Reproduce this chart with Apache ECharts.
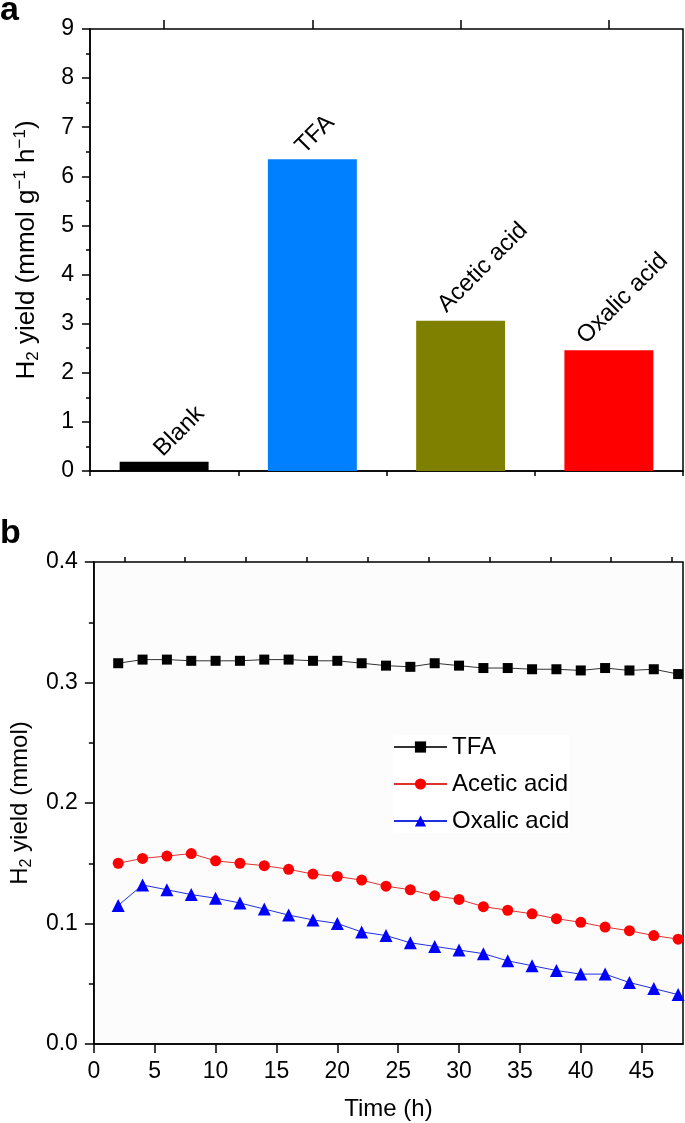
<!DOCTYPE html>
<html><head><meta charset="utf-8">
<script src="https://cdn.jsdelivr.net/npm/echarts@6/dist/echarts.min.js"></script>
<style>html,body{margin:0;padding:0;background:#fff}#c{width:685px;height:1123px}</style>
</head><body><div id="c"></div>
<script>
// ---- Panel a data ----
const barCategories = ['Blank', 'TFA', 'Acetic acid', 'Oxalic acid'];
const barValues = [0.19, 6.35, 3.06, 2.46];
const barColors = ['#000000', '#0080ff', '#808000', '#ff0000'];
const yTicksA = [0, 1, 2, 3, 4, 5, 6, 7, 8, 9];

// ---- Panel b data ----
const timeH = [2, 4, 6, 8, 10, 12, 14, 16, 18, 20, 22, 24, 26, 28, 30, 32, 34, 36, 38, 40, 42, 44, 46, 48];
const tfa = [0.316, 0.319, 0.319, 0.318, 0.318, 0.318, 0.319, 0.319, 0.318, 0.318, 0.316, 0.314, 0.313, 0.316, 0.314, 0.312, 0.312, 0.311, 0.311, 0.310, 0.312, 0.310, 0.311, 0.307];
const acetic = [0.150, 0.154, 0.156, 0.158, 0.152, 0.150, 0.148, 0.145, 0.141, 0.139, 0.136, 0.131, 0.128, 0.123, 0.120, 0.114, 0.111, 0.108, 0.104, 0.101, 0.097, 0.094, 0.090, 0.087];
const oxalic = [0.115, 0.132, 0.128, 0.124, 0.121, 0.117, 0.112, 0.107, 0.103, 0.100, 0.093, 0.090, 0.084, 0.081, 0.078, 0.075, 0.069, 0.065, 0.061, 0.058, 0.058, 0.051, 0.046, 0.041];
const timeTicks = [0, 5, 10, 15, 20, 25, 30, 35, 40, 45];
const timeMinorTicks = [2.5, 7.5, 12.5, 17.5, 22.5, 27.5, 32.5, 37.5, 42.5, 47.5];
const timeMax = 48.4;
const yTicksB = [0, 0.1, 0.2, 0.3, 0.4];

// label placement (style only, in the label's rotated frame)
const barLabelShift = [[-0.6, 4.2], [-5.5, -0.7], [-7.6, -7.1], [-15.4, -12.0]];

const FONT = 'Liberation Sans';
const chart = echarts.init(document.getElementById('c'), null, {renderer: 'canvas'});

const axisLineStyle = {color: '#000', width: 1.5};
const richName = (size, lh) => ({
  a: {fontSize: size, fontFamily: FONT, color: '#000', lineHeight: lh, verticalAlign: 'middle'},
  sub: {fontSize: Math.round(size * 0.66), fontFamily: FONT, color: '#000', lineHeight: 15, verticalAlign: 'bottom'},
  sup: {fontSize: Math.round(size * 0.66), fontFamily: FONT, color: '#000', lineHeight: 15, verticalAlign: 'top'}
});

const option = {
  animation: false,
  backgroundColor: '#fff',
  graphic: [
    {type: 'text', x: 0, y: 11, style: {text: 'a', font: 'bold 34px ' + FONT, fill: '#000', verticalAlign: 'middle'}},
    {type: 'text', x: 0, y: 534, style: {text: 'b', font: 'bold 34px ' + FONT, fill: '#000', verticalAlign: 'middle'}}
  ],
  grid: [
    {left: 90, right: 2, top: 29, height: 442, show: true, borderColor: '#000', borderWidth: 1.5, backgroundColor: 'transparent'},
    {left: 89, right: 2, top: 562, height: 482, show: true, borderColor: '#000', borderWidth: 1.5, backgroundColor: '#fcfcfc'}
  ],
  legend: {
    data: ['TFA', 'Acetic acid', 'Oxalic acid'],
    orient: 'vertical', left: 393, top: 735,
    itemWidth: 53, itemHeight: 14, itemGap: 13, padding: 0,
    textStyle: {fontSize: 24, fontFamily: FONT, color: '#000', lineHeight: 24},
    backgroundColor: '#fff'
  },
  xAxis: [
    {gridIndex: 0, type: 'category', data: barCategories, boundaryGap: true,
     axisLine: {lineStyle: axisLineStyle}, axisTick: {show: true, length: 5, lineStyle: {color: '#000', width: 1.5}},
     axisLabel: {show: false}, splitLine: {show: false}},
    {gridIndex: 0, type: 'category', data: barCategories, boundaryGap: true,
     axisLine: {show: false}, axisTick: {show: true, alignWithLabel: true, length: 9, lineStyle: {color: '#000', width: 1.5}},
     axisLabel: {show: false}, splitLine: {show: false}},
    {gridIndex: 1, type: 'value', min: 0, max: timeMax, interval: 5,
     axisLine: {lineStyle: axisLineStyle},
     axisTick: {show: true, length: 9, customValues: timeTicks, lineStyle: {color: '#000', width: 1.5}},
     axisLabel: {customValues: timeTicks, fontSize: 23, fontFamily: FONT, color: '#000', margin: 16},
     splitLine: {show: false},
     name: 'Time (h)', nameLocation: 'middle', nameGap: 53,
     nameTextStyle: {fontSize: 24, fontFamily: FONT, color: '#000'}},
    {gridIndex: 1, type: 'value', min: 0, max: timeMax, interval: 5,
     axisLine: {show: false},
     axisTick: {show: true, length: 5, customValues: timeMinorTicks, lineStyle: {color: '#000', width: 1.5}},
     axisLabel: {show: false}, splitLine: {show: false}}
  ],
  yAxis: [
    {gridIndex: 0, type: 'value', min: yTicksA[0], max: yTicksA[yTicksA.length - 1], interval: 1,
     axisLine: {show: true, lineStyle: axisLineStyle},
     axisTick: {show: true, length: 8, lineStyle: {color: '#000', width: 1.5}},
     minorTick: {show: true, splitNumber: 2, length: 4, lineStyle: {color: '#000', width: 1.5}},
     axisLabel: {fontSize: 23, fontFamily: FONT, color: '#000', margin: 16},
     splitLine: {show: false},
     name: '{a|H}{sub|2}{a| yield (mmol g}{sup|−1}{a| h}{sup|−1}{a|)}',
     nameLocation: 'middle', nameGap: 48,
     nameTextStyle: {rich: richName(26, 30)}},
    {gridIndex: 1, type: 'value', min: yTicksB[0], max: yTicksB[yTicksB.length - 1], interval: 0.1,
     axisLine: {show: true, lineStyle: axisLineStyle},
     axisTick: {show: true, length: 9, lineStyle: {color: '#000', width: 1.5}},
     minorTick: {show: true, splitNumber: 2, length: 5, lineStyle: {color: '#000', width: 1.5}},
     axisLabel: {fontSize: 23, fontFamily: FONT, color: '#000', margin: 16, formatter: v => v.toFixed(1)},
     splitLine: {show: false},
     name: '{a|H}{sub|2}{a| yield (mmol)}',
     nameLocation: 'middle', nameGap: 47,
     nameTextStyle: {rich: richName(24, 30)}}
  ],
  series: [
    {type: 'bar', xAxisIndex: 0, yAxisIndex: 0, barWidth: '60%',
     data: barValues.map((v, i) => ({
       value: v,
       itemStyle: {color: barColors[i]},
       label: {offset: barLabelShift[i]}
     })),
     label: {show: true, position: 'top', distance: 4, rotate: 45, align: 'left', verticalAlign: 'bottom',
             formatter: '{b}', fontSize: 24, fontFamily: FONT, color: '#000'}},
    {type: 'line', name: 'TFA', xAxisIndex: 2, yAxisIndex: 1,
     data: timeH.map((t, i) => [t, tfa[i]]),
     symbol: 'rect', symbolSize: 10, itemStyle: {color: '#000'},
     lineStyle: {color: '#333', width: 1}, clip: false},
    {type: 'line', name: 'Acetic acid', xAxisIndex: 2, yAxisIndex: 1,
     data: timeH.map((t, i) => [t, acetic[i]]),
     symbol: 'circle', symbolSize: 11, itemStyle: {color: '#ff0000'},
     lineStyle: {color: '#e03030', width: 1}, clip: false},
    {type: 'line', name: 'Oxalic acid', xAxisIndex: 2, yAxisIndex: 1,
     data: timeH.map((t, i) => [t, oxalic[i]]),
     symbol: 'triangle', symbolSize: 13, itemStyle: {color: '#0000ff'},
     lineStyle: {color: '#2030e0', width: 1}, clip: false}
  ]
};
chart.setOption(option);
</script>
</body></html>
